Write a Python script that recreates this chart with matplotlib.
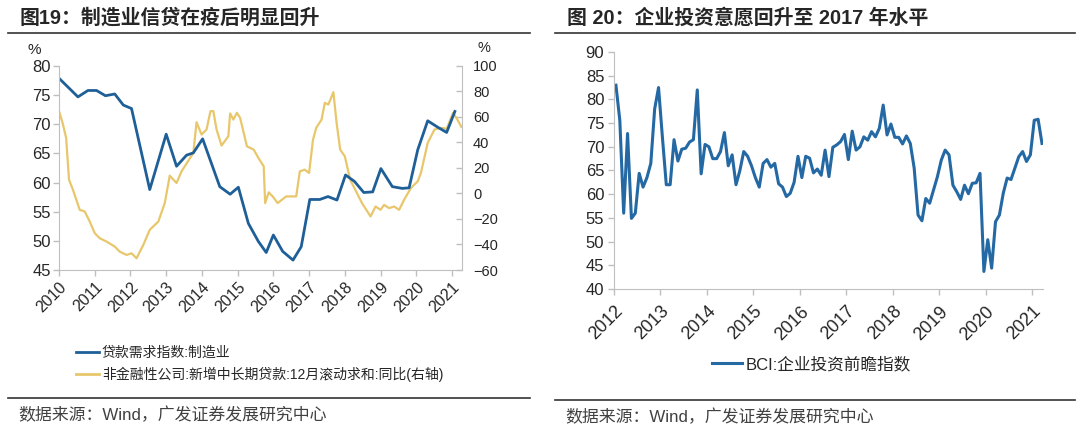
import matplotlib
matplotlib.use("Agg")
import matplotlib.pyplot as plt
from matplotlib.lines import Line2D

plt.rcParams['font.family'] = ['Liberation Sans', 'Noto Sans CJK SC', 'DejaVu Sans']

# ---- left chart data ----
# loan demand index: manufacturing (quarterly, left axis)
demand_x = [2010.0, 2010.53, 2010.81, 2011.05, 2011.3, 2011.56, 2011.8, 2012.03, 2012.54,
            2013.0, 2013.29, 2013.57, 2013.76, 2014.02, 2014.5, 2014.79, 2015.02, 2015.3,
            2015.58, 2015.8, 2016.0, 2016.26, 2016.55, 2016.78, 2017.02, 2017.3, 2017.53,
            2017.78, 2018.02, 2018.27, 2018.53, 2018.78, 2019.01, 2019.33, 2019.61, 2019.8,
            2020.04, 2020.32, 2020.6, 2020.85, 2021.08]
demand_y = [77.9, 74.7, 75.8, 75.8, 74.9, 75.2, 73.3, 72.7, 58.8,
            68.3, 62.8, 64.7, 65.1, 67.5, 59.3, 58.0, 59.2, 53.0,
            49.9, 48.0, 51.0, 48.2, 46.7, 49.0, 57.1, 57.1, 57.6,
            57.0, 61.3, 60.2, 58.3, 58.4, 62.4, 59.3, 59.0, 59.1,
            65.6, 70.6, 69.5, 68.6, 72.2]

# non-financial corp new mid/long-term loans 12m rolling sum yoy (right axis)
loan_x = [2010.0, 2010.1, 2010.2, 2010.28, 2010.39, 2010.58, 2010.72, 2010.86, 2011.0,
          2011.14, 2011.33, 2011.56, 2011.7, 2011.89, 2012.03, 2012.17, 2012.36, 2012.54,
          2012.78, 2012.96, 2013.1, 2013.29, 2013.43, 2013.76, 2013.85, 2013.99, 2014.13,
          2014.24, 2014.32, 2014.41, 2014.55, 2014.74, 2014.79, 2014.88, 2014.98, 2015.07,
          2015.26, 2015.45, 2015.58, 2015.73, 2015.77, 2015.87, 2015.98, 2016.12, 2016.36,
          2016.64, 2016.74, 2016.88, 2017.0, 2017.11, 2017.2, 2017.35, 2017.44, 2017.54,
          2017.68, 2017.77, 2017.87, 2018.0, 2018.15, 2018.34, 2018.48, 2018.72, 2018.86,
          2019.0, 2019.1, 2019.24, 2019.38, 2019.52, 2019.66, 2019.85, 2020.04, 2020.13,
          2020.32, 2020.51, 2020.7, 2020.85, 2021.03, 2021.15, 2021.26]
loan_y = [64.6, 55.4, 43.6, 10.8, 3.0, -12.8, -14.1, -22.0, -31.1,
          -35.1, -37.7, -41.6, -45.6, -48.2, -46.9, -50.8, -40.3, -28.5,
          -22.0, -7.5, 14.0, 8.2, 17.4, 31.8, 55.9, 46.2, 50.2,
          64.6, 64.6, 50.2, 37.6, 44.9, 62.8, 58.0, 63.3, 59.3,
          37.0, 34.4, 27.9, 21.3, -7.5, 0.9, -2.3, -7.5, -2.3,
          -2.3, 17.4, 18.7, 16.1, 42.3, 51.5, 58.0, 71.1, 69.8,
          79.5, 55.4, 34.4, 29.2, 10.8, 0.3, -7.5, -18.0, -10.2,
          -12.8, -8.9, -11.5, -10.2, -12.8, -4.9, 4.3, 9.5, 16.1,
          39.7, 50.2, 51.5, 50.7, 63.3, 58.0, 52.3]

left_years = list(range(2010, 2022))

# ---- right chart data ----
# BCI investment forward index, monthly from Jan 2012
bci = [83.0, 75.6, 56.0, 72.8, 54.9, 56.0, 64.4, 61.5, 63.5, 66.5, 78.0, 82.5,
       72.0, 62.0, 62.0, 71.5, 67.0, 69.5, 69.7, 71.0, 71.5, 82.0, 64.3, 70.5,
       70.0, 67.5, 67.5, 69.0, 73.0, 66.0, 68.3, 62.0, 65.0, 69.0, 68.0, 66.0,
       63.5, 61.5, 66.5, 67.3, 65.7, 66.5, 62.2, 61.5, 59.5, 60.2, 62.5, 68.0,
       63.5, 68.0, 67.6, 64.5, 65.3, 64.0, 69.3, 63.7, 69.9, 70.4, 71.1, 72.6,
       67.3, 73.3, 69.3, 70.0, 72.1, 71.4, 73.2, 72.1, 73.9, 78.8, 72.5, 74.8,
       72.0, 72.0, 70.6, 72.3, 70.7, 65.5, 55.6, 54.4, 59.1, 58.1, 60.9, 63.7,
       67.2, 69.3, 68.3, 61.9, 60.5, 58.9, 61.9, 60.1, 62.3, 62.4, 64.4, 43.7,
       50.4, 44.4, 54.2, 55.6, 60.2, 63.4, 63.1, 65.5, 67.9, 69.0, 66.9, 68.3,
       75.6, 75.8, 70.7]
bci_x = [2012 + (i + 0.5) / 12 for i in range(len(bci))]
right_years = list(range(2012, 2022))

blue = '#1f5f98'
yellow = '#e8c76c'
grey = '#bfbfbf'
txt = '#262626'

W, H = 1080, 436
fig = plt.figure(figsize=(W / 100, H / 100), dpi=100)


def px_axes(x0, y0, x1, y1):
    return fig.add_axes([x0 / W, 1 - y1 / H, (x1 - x0) / W, (y1 - y0) / H])


def style(ax):
    for s in ['top', 'right']:
        ax.spines[s].set_visible(False)
    for s in ['left', 'bottom']:
        ax.spines[s].set_color(grey)
    ax.tick_params(colors=grey, labelcolor=txt, length=4, width=1)


# ===== left panel =====
ax1 = px_axes(59, 66, 462, 270)
style(ax1)
ax1.tick_params(axis='y', labelsize=12, pad=2)
ax1.tick_params(axis='x', labelsize=11.5, pad=3)
ax1.plot(demand_x, demand_y, color=blue, lw=2)
ax1.set_xlim(2010, 2021.28)
ax1.set_ylim(45, 80)
ax1.set_yticks(range(45, 81, 5))
ax1.set_xticks(left_years)
ax1.set_xticklabels([str(y) for y in left_years], rotation=45, ha='right', rotation_mode='anchor')

ax2 = ax1.twinx()
ax2.plot(loan_x, loan_y, color=yellow, lw=1.6)
ax2.set_ylim(-60, 100)
ax2.set_yticks(range(-60, 101, 20))
for s in ['top', 'left', 'bottom']:
    ax2.spines[s].set_visible(False)
ax2.spines['right'].set_color(grey)
ax2.tick_params(colors=grey, labelcolor=txt, labelsize=10.5, length=4, width=1,
                direction='in', pad=8)
ax1.set_zorder(ax2.get_zorder() + 1)
ax1.patch.set_visible(False)

fig.text(27 / W, 1 - 50 / H, '%', fontsize=11, color=txt, va='center')
fig.text(477 / W, 1 - 48 / H, '%', fontsize=10.5, color=txt, va='center')

fig.text(20 / W, 1 - 18 / H, '图19：制造业信贷在疫后明显回升', fontsize=14.3,
         fontweight='bold', color=txt, va='center')
fig.add_artist(Line2D([8 / W, 530 / W], [1 - 33 / H] * 2, color='#333333', lw=1.2))

h1 = Line2D([], [], color=blue, lw=2)
h2 = Line2D([], [], color=yellow, lw=2)
fig.legend([h1, h2], ['贷款需求指数:制造业', '非金融性公司:新增中长期贷款:12月滚动求和:同比(右轴)'],
           loc='upper left', bbox_to_anchor=(63 / W, 1 - 333 / H), frameon=False,
           fontsize=10, handlelength=1.7, handletextpad=0.2, labelspacing=0.5,
           labelcolor=txt)

fig.add_artist(Line2D([8 / W, 530 / W], [1 - 398 / H] * 2, color='#333333', lw=1.2))
fig.text(18 / W, 1 - 415 / H, '数据来源：Wind，广发证券发展研究中心', fontsize=12.2,
         color='#404040', va='center')

# ===== right panel =====
ax3 = px_axes(614, 52, 1043, 289)
style(ax3)
ax3.tick_params(axis='y', labelsize=12, pad=3)
ax3.tick_params(axis='x', labelsize=13, pad=6)
ax3.plot(bci_x, bci, color='#2469a3', lw=2.2)
ax3.set_xlim(2012, 2021.23)
ax3.set_ylim(40, 90)
ax3.set_yticks(range(40, 91, 5))
ax3.set_xticks(right_years)
ax3.set_xticklabels([str(y) for y in right_years], rotation=45, ha='right', rotation_mode='anchor')

fig.text(567 / W, 1 - 18 / H, '图 20：企业投资意愿回升至 2017 年水平', fontsize=14.3,
         fontweight='bold', color=txt, va='center')
fig.add_artist(Line2D([555 / W, 1075 / W], [1 - 33 / H] * 2, color='#333333', lw=1.2))

h3 = Line2D([], [], color='#2469a3', lw=2.2)
fig.legend([h3], ['BCI:企业投资前瞻指数'], loc='center left',
           bbox_to_anchor=(697 / W, 1 - 364 / H), frameon=False, fontsize=12,
           handlelength=1.8, handletextpad=0.2, labelcolor=txt)

fig.add_artist(Line2D([555 / W, 1075 / W], [1 - 400 / H] * 2, color='#333333', lw=1.2))
fig.text(565 / W, 1 - 417 / H, '数据来源：Wind，广发证券发展研究中心', fontsize=12.2,
         color='#404040', va='center')

fig.savefig('out.png', dpi=100)
